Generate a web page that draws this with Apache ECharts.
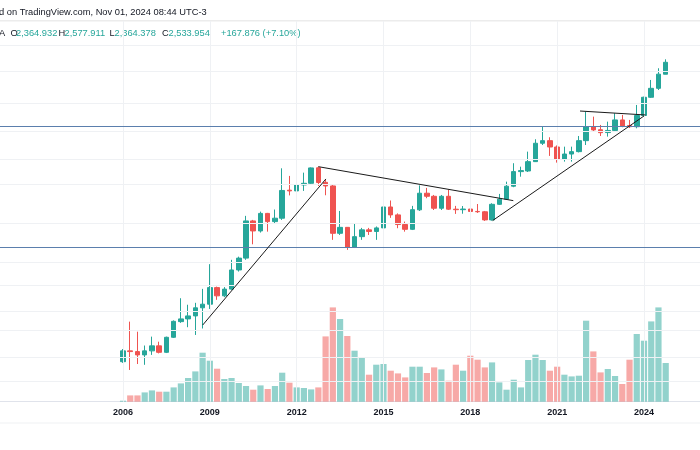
<!DOCTYPE html>
<html><head><meta charset="utf-8">
<script src="https://cdn.jsdelivr.net/npm/echarts@6/dist/echarts.min.js"></script>
<style>html,body{margin:0;padding:0;background:#fff}#c{width:700px;height:450px}</style>
</head><body><div id="c"></div><script>
// ---- data (XAUEUR, quarterly candles, Q1 2006 .. Q4 2024) ----
const startYear = 2006, endYear = 2024;
const tickYears = [2006, 2009, 2012, 2015, 2018, 2021, 2024];
const open = [449,478,476,467,478,492,474,517,566,575,585,613,626,689,657,683,763,817,1013,956,1058,1009,1029,1210,1205,1247,1259,1377,1266,1240,943,976,869,925,962,953,973,1098,1049,992,965,1080,1189,1168,1090,1168,1084,1081,1085,1070,1068,1019,1115,1149,1238,1347,1352,1427,1587,1611,1553,1446,1491,1512,1611,1747,1716,1688,1709,1816,1758,1746,1863,2070,2180,2364.932];
const close = [478,476,467,478,492,474,517,567,575,585,613,626,689,657,683,763,817,1013,956,1058,1009,1029,1208,1205,1247,1259,1376,1265,1240,943,976,869,925,962,953,973,1098,1049,992,965,1081,1189,1168,1090,1168,1084,1081,1085,1070,1068,1019,1115,1149,1238,1347,1355,1427,1587,1611,1553,1446,1491,1512,1611,1747,1714,1687,1709,1816,1754,1746,1863,2070,2180,2366.078,2533.954];
const low = [446,428,443,441,467,471,472,515,562,548,524,544,609,642,652,680,756,809,885,947,952,995,1019,1174,1201,1205,1254,1240,1175,908,934,857,866,908,934,908,967,1031,971,952,961,1073,1155,1079,1079,1079,1055,1056,1063,1061,1013,1015,1111,1144,1231,1308,1344,1424,1571,1475,1419,1427,1427,1505,1571,1697,1655,1649,1697,1741,1733,1730,1855,2062,2159,2364.378];
const high = [483,566,534,493,519,504,519,570,648,624,631,684,789,693,691,809,824,1043,1019,1069,1061,1082,1373,1314,1344,1339,1380,1386,1289,1247,1073,978,997,973,973,981,1166,1140,1058,1009,1105,1244,1226,1177,1177,1215,1105,1104,1092,1117,1073,1122,1184,1271,1414,1386,1512,1624,1749,1643,1567,1556,1556,1655,1905,1851,1764,1798,1887,1869,1816,1980,2077,2288,2448,2577.911];
const volume = [1,6.3,6.3,9.3,11.3,10,10,14.3,18.3,23.7,30.3,49,41,33,22.7,23.7,18.7,15.7,12,16.3,12.7,15.7,29,19,14.3,13.7,12.3,14.3,65.3,94.3,82.7,65.7,51,44.3,27,37,37.7,31,28.3,24.3,35,35,28.7,34.3,32.3,21,37,31,46,42,34.3,39.3,19.3,12,22,14.3,41.7,47,41.7,31,35,27,25.3,26,81,50.3,29.3,32.7,25.7,17.7,42,67.7,61,80.3,94.3,38.7];
const levelLines = [1754, 872];
const gridLevels = [2800, 2400, 2000, 1700, 1450, 1250, 1000, 800, 700, 600, 540, 460, 400];
// trend lines: [time (year fraction), price]
const trendLines = [
  [[2008.754, 555], [2013.01, 1291]],
  [[2012.75, 1386], [2019.485, 1139]],
  [[2018.77, 1015], [2024.0, 1858]],
  [[2021.79, 1912], [2024.05, 1869]]
];

// ---- build ----
const xs = [];
for (let y = startYear; y <= endYear; y++) for (let q = 0; q < 4; q++) xs.push(y + q / 4);

const UP = '#26a69a', DOWN = '#ef5350';
const candleData = xs.map((x, i) => [x, open[i], close[i], low[i], high[i]]);
const volData = xs.map((x, i) => ({
  value: [x, volume[i]],
  itemStyle: { color: close[i] >= open[i] ? 'rgba(38,166,154,0.5)' : 'rgba(239,83,80,0.5)' }
}));

const n = xs.length - 1;
const fmt = v => v.toLocaleString('en-US', { minimumFractionDigits: 3, maximumFractionDigits: 3 });
const chg = close[n] - close[n - 1];
const pct = chg / close[n - 1] * 100;
const font = '9.3px "Liberation Sans"';
const hy = 33.3;
const hdr = [
  { t: 'A', x: -1, c: '#131722' },
  { t: 'O', x: 10.5, c: '#131722' }, { t: fmt(open[n]), x: 16, c: UP },
  { t: 'H', x: 58.5, c: '#131722' }, { t: fmt(high[n]), x: 64.5, c: UP },
  { t: 'L', x: 109.5, c: '#131722' }, { t: fmt(low[n]), x: 114.5, c: UP },
  { t: 'C', x: 162, c: '#131722' }, { t: fmt(close[n]), x: 168.5, c: UP },
  { t: '+' + chg.toFixed(3) + ' (+' + pct.toFixed(2) + '%)', x: 221, c: UP }
];
const graphics = [
  { type: 'text', x: -1, y: 12.7, silent: true, style: { text: 'd on TradingView.com, Nov 01, 2024 08:44 UTC-3', font: font, fill: '#131722', verticalAlign: 'middle' } },
  { type: 'rect', shape: { x: 0, y: 20, width: 700, height: 1.5 }, silent: true, style: { fill: '#ececec' } },
  { type: 'rect', shape: { x: 0, y: 422.5, width: 700, height: 1 }, silent: true, style: { fill: '#f0f1f3' } }
].concat(hdr.map(h => ({ type: 'text', x: h.x, y: hy, silent: true, style: { text: h.t, font: font, fill: h.c, verticalAlign: 'middle' } })));

const X_MIN = 2001.7504, X_MAX = 2025.935;
const chart = echarts.init(document.getElementById('c'), null, { renderer: 'canvas' });
chart.setOption({
  animation: false,
  backgroundColor: '#ffffff',
  grid: [
    { left: 0, right: 0, top: 21, bottom: 48.3 },
    { left: 0, right: 0, top: 301.7, bottom: 48.3 }
  ],
  xAxis: [
    { type: 'value', gridIndex: 0, min: X_MIN, max: X_MAX, axisLine: { show: false }, axisTick: { show: false }, axisLabel: { show: false }, splitLine: { show: false } },
    { type: 'value', gridIndex: 1, min: X_MIN, max: X_MAX,
      axisLine: { show: true, onZero: false, lineStyle: { color: '#e0e3eb', width: 1 } }, axisTick: { show: false },
      axisLabel: { customValues: tickYears, formatter: v => String(v), color: '#131722', fontSize: 9, fontWeight: 'bold', fontFamily: 'Liberation Sans', margin: 6 },
      splitLine: { show: false } }
  ],
  yAxis: [
    { type: 'log', logBase: 10, gridIndex: 0, min: 356.3, max: 3217, axisLine: { show: false }, axisTick: { show: false }, axisLabel: { show: false }, splitLine: { show: false } },
    { type: 'value', gridIndex: 1, min: 0, max: 100, show: false, splitLine: { show: false } }
  ],
  graphic: graphics,
  series: [
    { type: 'line', xAxisIndex: 0, yAxisIndex: 0, data: [], z: 0, silent: true,
      markLine: { silent: true, symbol: ['none', 'none'], animation: false, label: { show: false },
        lineStyle: { color: '#eff1f4', width: 1, type: 'solid' },
        data: gridLevels.map(v => ({ yAxis: v })).concat(tickYears.map(y => ({ xAxis: y }))) } },
    { type: 'bar', xAxisIndex: 1, yAxisIndex: 1, data: volData, barWidth: 6.2, z: 1, silent: true },
    { type: 'candlestick', xAxisIndex: 0, yAxisIndex: 0, data: candleData, encode: { x: 0, y: [1, 2, 3, 4] }, barWidth: 5, z: 3, silent: true,
      itemStyle: { color: UP, color0: DOWN, borderColor: UP, borderColor0: DOWN, borderWidth: 1 },
      markLine: { silent: true, symbol: ['none', 'none'], animation: false, label: { show: false },
        data: levelLines.map(v => ({ yAxis: v, lineStyle: { color: '#5b7fad', width: 1, type: 'solid' } }))
          .concat(trendLines.map(t => [
            { coord: t[0], lineStyle: { color: '#1a1a1a', width: 1, type: 'solid' } },
            { coord: t[1] }
          ])) } }
  ]
});
</script></body></html>
